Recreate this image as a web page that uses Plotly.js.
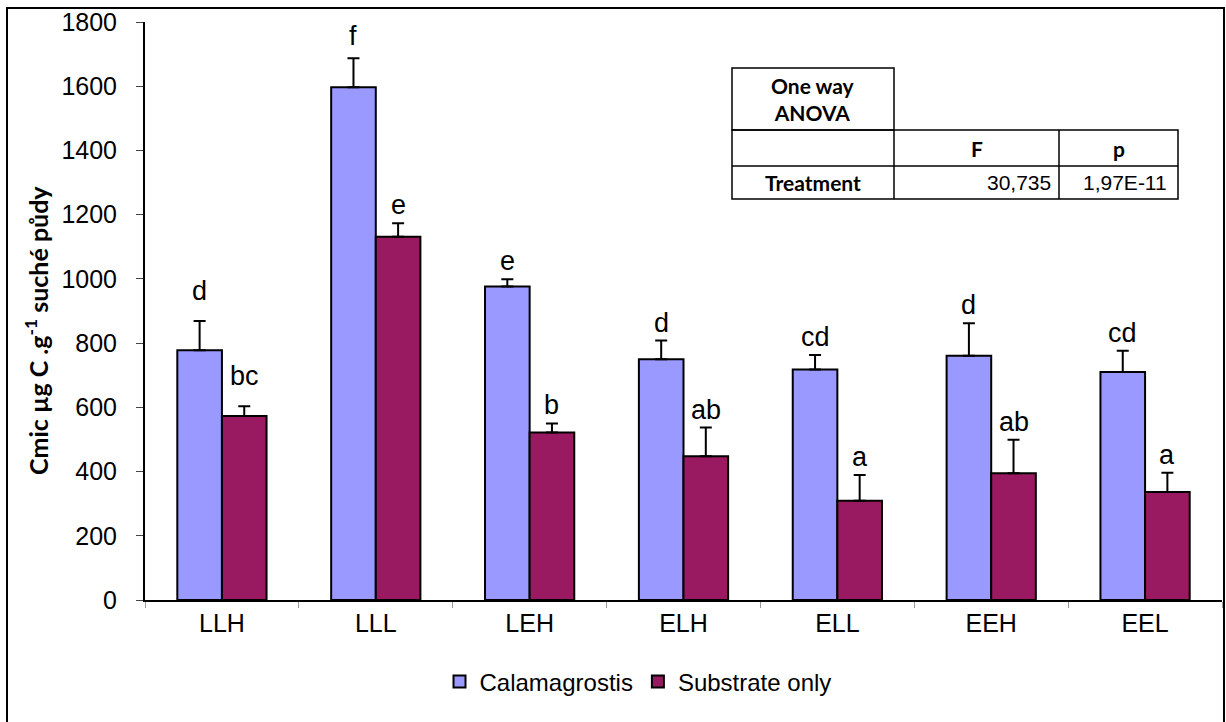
<!DOCTYPE html>
<html>
<head>
<meta charset="utf-8">
<script src="https://cdn.plot.ly/plotly-3.0.1.min.js"></script>
<style>html,body{margin:0;padding:0;background:#fff;}#chart{width:1226px;height:722px;}</style>
</head>
<body>
<div id="chart"></div>
<script>
const categories = ['LLH', 'LLL', 'LEH', 'ELH', 'ELL', 'EEH', 'EEL'];
const calamagrostis = [778, 1597, 976, 750, 718, 761, 710];
const calamagrostisErr = [91, 90, 23, 58, 45, 101, 66];
const substrate = [573, 1131, 522, 448, 309, 395, 336];
const substrateErr = [30, 42, 28, 89, 80, 104, 60];
const calamagrostisLetters = ['d', 'f', 'e', 'd', 'cd', 'd', 'cd'];
const substrateLetters = ['bc', 'e', 'b', 'ab', 'a', 'ab', 'a'];
const seriesNames = ['Calamagrostis', 'Substrate only'];
const yTitle = 'Cmic µg C .g<sup>-1</sup> suché půdy';
const anovaHeader = ['One way<br>ANOVA', 'F', 'p'];
const anovaRow = ['Treatment', '30,735', '1,97E-11'];

// layout helpers (pixel -> paper)
const L = 145, R = 1222, T = 22, B = 600;
const px = x => (x - L) / (R - L);
const py = y => (B - y) / (B - T);

const colors = ['#9999FF', '#991A60'];
const errStyle = {type: 'data', symmetric: false, color: '#000', thickness: 2, width: 6};

const traces = [
  {type: 'bar', name: seriesNames[0], x: categories, y: calamagrostis,
   marker: {color: colors[0], line: {color: '#000', width: 2}},
   error_y: Object.assign({array: calamagrostisErr}, errStyle), hoverinfo: 'x+y'},
  {type: 'bar', name: seriesNames[1], x: categories, y: substrate,
   marker: {color: colors[1], line: {color: '#000', width: 2}},
   error_y: Object.assign({array: substrateErr}, errStyle), hoverinfo: 'x+y'}
];

const letterLiftC = [12, 4, 0, 0, 0, 0, 0];
const letterLiftS = [12, 0, 0, 0, 0, 0, 0];
const annotations = [];
const letterFont = {family: 'Liberation Sans, Arial, sans-serif', size: 27, color: '#000'};
categories.forEach((c, i) => {
  annotations.push({x: c, y: calamagrostis[i] + calamagrostisErr[i], xref: 'x', yref: 'y',
    text: calamagrostisLetters[i], showarrow: false, yanchor: 'bottom', xanchor: 'center',
    xshift: -22.3, yshift: 1 + letterLiftC[i], font: letterFont});
  annotations.push({x: c, y: substrate[i] + substrateErr[i], xref: 'x', yref: 'y',
    text: substrateLetters[i], showarrow: false, yanchor: 'bottom', xanchor: 'center',
    xshift: 22.3, yshift: 1 + letterLiftS[i], font: letterFont});
});

// y axis title
annotations.push({xref: 'paper', yref: 'paper', x: px(36), y: py(331), text: yTitle,
  textangle: -90, showarrow: false, xanchor: 'center', yanchor: 'middle',
  font: {family: 'Lato, Carlito, sans-serif', size: 25, weight: 'bold', color: '#000'}});

// ANOVA table
const tblX = [732, 894, 1059, 1178];
const tblY = [68, 130, 166, 199];
const tblBold = {family: 'Lato, Carlito, sans-serif', size: 21, weight: 'bold', color: '#000'};
const tblNum = {family: 'Liberation Sans, Arial, sans-serif', size: 21, color: '#000'};
annotations.push({xref: 'paper', yref: 'paper', x: px((tblX[0] + tblX[1]) / 2), y: py((tblY[0] + tblY[1]) / 2),
  text: anovaHeader[0], showarrow: false, xanchor: 'center', yanchor: 'middle', font: tblBold});
annotations.push({xref: 'paper', yref: 'paper', x: px((tblX[1] + tblX[2]) / 2), y: py((tblY[1] + tblY[2]) / 2),
  text: anovaHeader[1], showarrow: false, xanchor: 'center', yanchor: 'middle', font: tblBold});
annotations.push({xref: 'paper', yref: 'paper', x: px((tblX[2] + tblX[3]) / 2), y: py((tblY[1] + tblY[2]) / 2),
  text: anovaHeader[2], showarrow: false, xanchor: 'center', yanchor: 'middle', font: tblBold});
annotations.push({xref: 'paper', yref: 'paper', x: px((tblX[0] + tblX[1]) / 2), y: py((tblY[2] + tblY[3]) / 2),
  text: anovaRow[0], showarrow: false, xanchor: 'center', yanchor: 'middle', font: tblBold});
annotations.push({xref: 'paper', yref: 'paper', x: px(tblX[2] - 6), y: py((tblY[2] + tblY[3]) / 2),
  text: anovaRow[1], showarrow: false, xanchor: 'right', yanchor: 'middle', font: tblNum});
annotations.push({xref: 'paper', yref: 'paper', x: px(tblX[3] - 9), y: py((tblY[2] + tblY[3]) / 2),
  text: anovaRow[2], showarrow: false, xanchor: 'right', yanchor: 'middle', font: tblNum});

const tl = {color: '#000', width: 1.5};
const shapes = [
  // outer frame
  {type: 'rect', xref: 'paper', yref: 'paper', x0: px(7), x1: px(1224), y0: py(740), y1: py(8),
   line: {color: '#000', width: 2}, fillcolor: 'rgba(0,0,0,0)'},
  {type: 'rect', xref: 'paper', yref: 'paper', x0: px(tblX[0]), x1: px(tblX[1]), y0: py(tblY[1]), y1: py(tblY[0]), line: tl},
  {type: 'rect', xref: 'paper', yref: 'paper', x0: px(tblX[0]), x1: px(tblX[3]), y0: py(tblY[3]), y1: py(tblY[1]), line: tl},
  {type: 'line', xref: 'paper', yref: 'paper', x0: px(tblX[0]), x1: px(tblX[3]), y0: py(tblY[2]), y1: py(tblY[2]), line: tl},
  {type: 'line', xref: 'paper', yref: 'paper', x0: px(tblX[1]), x1: px(tblX[1]), y0: py(tblY[3]), y1: py(tblY[1]), line: tl},
  {type: 'line', xref: 'paper', yref: 'paper', x0: px(tblX[2]), x1: px(tblX[2]), y0: py(tblY[3]), y1: py(tblY[1]), line: tl}
];

const layout = {
  width: 1226, height: 722,
  margin: {l: L, r: 1226 - R, t: T, b: 722 - B},
  paper_bgcolor: '#fff', plot_bgcolor: '#fff',
  barmode: 'group', bargap: 0.42, bargroupgap: 0,
  font: {family: 'Liberation Sans, Arial, sans-serif', color: '#000'},
  xaxis: {type: 'category', showline: true, linecolor: '#000', linewidth: 2,
    ticks: 'outside', tickson: 'boundaries', ticklen: 6, tickcolor: '#999', tickwidth: 1,
    tickfont: {size: 25, color: '#000'}, showgrid: false, zeroline: false, fixedrange: true},
  yaxis: {range: [0, 1800], dtick: 200, tick0: 0, showline: true, linecolor: '#000', linewidth: 2,
    ticks: 'outside', ticklen: 7, tickcolor: '#444', tickwidth: 1, ticklabelstandoff: 14,
    tickfont: {size: 25, color: '#000'}, showgrid: false, zeroline: false, fixedrange: true},
  showlegend: true,
  legend: {orientation: 'h', x: px(638), xanchor: 'center', y: py(682), yanchor: 'middle',
    font: {size: 24, color: '#000'}, itemwidth: 30, bgcolor: 'rgba(0,0,0,0)', traceorder: 'normal'},
  annotations: annotations,
  shapes: shapes
};

Plotly.newPlot('chart', traces, layout, {displayModeBar: false, staticPlot: true});
</script>
</body>
</html>
